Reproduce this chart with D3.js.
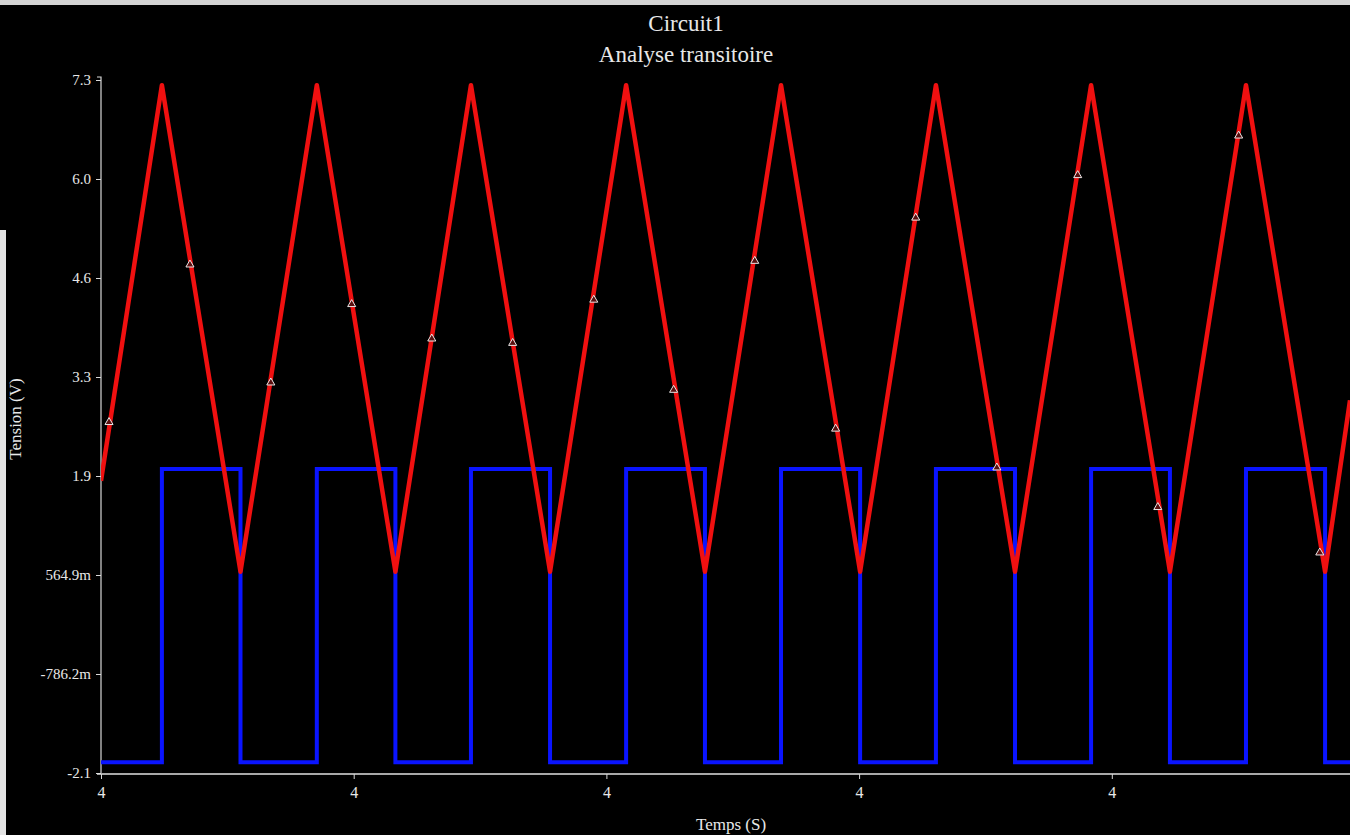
<!DOCTYPE html>
<html>
<head>
<meta charset="utf-8">
<script src="https://cdn.jsdelivr.net/npm/d3@7"></script>
<style>
  html, body { margin: 0; padding: 0; background: #000; }
  svg { display: block; }
  text { font-family: "Liberation Serif", "Times New Roman", serif; fill: #e8e8e8; }
</style>
</head>
<body>
<div id="chart"></div>
<script>
// titles
var titleLines = ["Circuit1", "Analyse transitoire"];
var xLabel = "Temps (S)";
var yLabel = "Tension (V)";

// axis ticks (seconds / volts)
var xTicks = [4.000, 4.001, 4.002, 4.003, 4.004];
var yTicks = [-2.1373, -0.7862, 0.5649, 1.9160, 3.2671, 4.6182, 5.9693, 7.3204];
var yTickLabels = ["-2.1", "-786.2m", "564.9m", "1.9", "3.3", "4.6", "6.0", "7.3"];
var xDomain = [4.0, 4.0049426];

// red trace: triangle wave vertices
var redTime = [4.000000, 4.000241, 4.000552, 4.000854, 4.001165, 4.001464, 4.001777, 4.002078,
               4.002390, 4.002691, 4.003004, 4.003304, 4.003617, 4.003918, 4.004230, 4.004531,
               4.004844, 4.0049426];
var redVolt = [1.85, 7.25, 0.61, 7.25, 0.61, 7.25, 0.61, 7.25,
               0.61, 7.25, 0.61, 7.25, 0.61, 7.25, 0.61, 7.25,
               0.61, 2.95];

// blue trace: square wave (step after)
var blueTime = [4.000000, 4.000241, 4.000552, 4.000854, 4.001165, 4.001464, 4.001777, 4.002078,
                4.002390, 4.002691, 4.003004, 4.003304, 4.003617, 4.003918, 4.004230, 4.004531,
                4.004844, 4.0049426];
var blueVolt = [-1.99, 2.01, -1.99, 2.01, -1.99, 2.01, -1.99, 2.01,
                -1.99, 2.01, -1.99, 2.01, -1.99, 2.01, -1.99, 2.01,
                -1.99, -1.99];

// sample markers on the red trace
var markTime = [4.0000317, 4.000352, 4.000672, 4.000992, 4.001309, 4.001629, 4.001950, 4.002266,
                4.002587, 4.002907, 4.003224, 4.003545, 4.003865, 4.004182, 4.004502, 4.004823];
var markVolt = [2.65, 4.80, 3.19, 4.26, 3.79, 3.73, 4.32, 3.09,
                4.85, 2.56, 5.44, 2.03, 6.02, 1.49, 6.56, 0.87];

var W = 1350, H = 835;
var margin = {top: 80, right: 0, bottom: 62, left: 101};
var width = W - margin.left - margin.right,
    height = H - margin.top - margin.bottom;

var root = d3.select("#chart").append("svg")
    .attr("width", W)
    .attr("height", H);

root.append("rect").attr("width", W).attr("height", H).attr("fill", "#000");
// light frame strips from the screenshot edges
root.append("rect").attr("x", 0).attr("y", 0).attr("width", W).attr("height", 5).attr("fill", "#d4d4d4");
root.append("rect").attr("x", 0).attr("y", 230).attr("width", 6).attr("height", H - 230).attr("fill", "#e4e4e4");

var svg = root.append("g")
    .attr("transform", `translate(${margin.left}, ${margin.top})`);

var x = d3.scaleLinear().domain(xDomain).range([0, width]);
var y = d3.scaleLinear().domain([yTicks[0], yTicks[yTicks.length - 1]]).range([height, 0]);

svg.append("defs").append("clipPath").attr("id", "plot")
  .append("rect").attr("x", 0).attr("y", -10).attr("width", width).attr("height", height + 10);

// Y axis
var yAxis = svg.append("g")
    .call(d3.axisLeft(y).tickValues(yTicks).tickSize(5).tickPadding(5)
      .tickFormat(function(d, i) { return yTickLabels[i]; }));
yAxis.select(".domain").attr("stroke", "#d8d8d8").attr("stroke-width", 1.2).attr("d", `M-4,-3H0V${height}`);
yAxis.selectAll(".tick line").attr("stroke", "#d8d8d8");
yAxis.selectAll(".tick text").attr("fill", "#e8e8e8").style("font-size", "15px")
    .style("font-family", "'Liberation Serif', serif");

// X axis
var xAxis = svg.append("g")
    .attr("transform", `translate(0, ${height + 1})`)
    .call(d3.axisBottom(x).tickValues(xTicks).tickSize(5).tickPadding(8).tickFormat(d3.format(".0f")));
xAxis.select(".domain").attr("stroke", "#e0e0e0").attr("stroke-width", 1.5).attr("d", `M-4,0H${width}`);
xAxis.selectAll(".tick line").attr("stroke", "#d8d8d8");
xAxis.selectAll(".tick text").attr("fill", "#e8e8e8").style("font-size", "16px")
    .style("font-family", "'Liberation Serif', serif");

var plot = svg.append("g").attr("clip-path", "url(#plot)");

var redData = redTime.map(function(t, i) { return [t, redVolt[i]]; });
var blueData = blueTime.map(function(t, i) { return [t, blueVolt[i]]; });
var markData = markTime.map(function(t, i) { return [t, markVolt[i]]; });

plot.append("path")
    .datum(blueData)
    .attr("fill", "none")
    .attr("stroke", "#0a14ff")
    .attr("stroke-width", 4)
    .attr("stroke-linejoin", "miter")
    .attr("d", d3.line().curve(d3.curveStepAfter)
      .x(function(d) { return x(d[0]); })
      .y(function(d) { return y(d[1]); }));

plot.append("path")
    .datum(redData)
    .attr("fill", "none")
    .attr("stroke", "#f01010")
    .attr("stroke-width", 4.5)
    .attr("stroke-linejoin", "round")
    .attr("d", d3.line()
      .x(function(d) { return x(d[0]); })
      .y(function(d) { return y(d[1]); }));

plot.append("g")
    .selectAll("path")
    .data(markData)
    .join("path")
    .attr("transform", function(d) { return `translate(${x(d[0])}, ${y(d[1])})`; })
    .attr("d", d3.symbol().type(d3.symbolTriangle).size(28))
    .attr("fill", "#5a1010")
    .attr("stroke", "#e8e8e8")
    .attr("stroke-width", 1);

// titles
root.append("text")
    .attr("x", 686).attr("y", 31)
    .attr("text-anchor", "middle")
    .style("font-size", "23px")
    .text(titleLines[0]);
root.append("text")
    .attr("x", 686).attr("y", 62)
    .attr("text-anchor", "middle")
    .style("font-size", "23px")
    .text(titleLines[1]);

// axis labels
root.append("text")
    .attr("x", 731).attr("y", 830)
    .attr("text-anchor", "middle")
    .style("font-size", "17px")
    .text(xLabel);
root.append("text")
    .attr("transform", "translate(21, 419) rotate(-90)")
    .attr("text-anchor", "middle")
    .style("font-size", "17px")
    .text(yLabel);
</script>
</body>
</html>
